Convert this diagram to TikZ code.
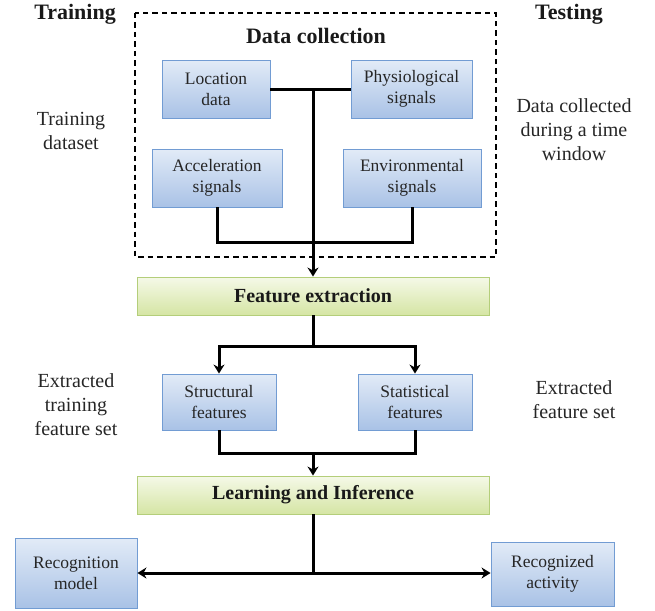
\documentclass[tikz,border=0pt]{standalone}
\usepackage{fontspec}
\setmainfont{Liberation Serif}
\usetikzlibrary{arrows.meta}
\definecolor{boxtop}{HTML}{E2EBF7}
\definecolor{boxbot}{HTML}{A9C2E6}
\definecolor{boxline}{HTML}{729CD3}
\definecolor{grtop}{HTML}{F5F9E8}
\definecolor{grbot}{HTML}{D5E5A4}
\definecolor{grline}{HTML}{B4CE7A}
\definecolor{txt}{HTML}{262626}
\begin{document}
\begin{tikzpicture}[x=1pt,y=-1pt,
  bluebox/.style={draw=boxline,line width=0.9pt,top color=boxtop,bottom color=boxbot,
    text=txt,align=center,inner sep=0pt,font=\fontsize{17.5}{21}\selectfont},
  greenbox/.style={draw=grline,line width=0.9pt,top color=grtop,bottom color=grbot,
    text=black!90,align=center,inner sep=0pt,minimum width=352pt,minimum height=38pt,
    font=\fontsize{20}{24}\selectfont\bfseries},
  sidetext/.style={text=txt,align=center,inner sep=0pt,font=\fontsize{20}{24}\selectfont},
  headtext/.style={text=black!90,inner sep=0pt,font=\fontsize{22}{26}\selectfont\bfseries},
  conn/.style={line width=3pt,black},
  arr/.style={conn,-{Stealth[length=9pt,width=11pt]}}]
\useasboundingbox (0,0) rectangle (655,610);

% dashed frame
\draw[line width=1.5pt,dash pattern=on 5.5pt off 4pt] (135,13) rectangle (496,257);

% headings
\node[headtext] (train) at (75,14) {Training};
\node[headtext] (test) at (569,14) {Testing};
\node[headtext] (dc) at (316,36) {Data collection};

% side texts
\node[sidetext] (tds) at (71,131) {Training\\dataset};
\node[sidetext] (dcw) at (574,130) {Data collected\\during a time\\window};
\node[sidetext] (etf) at (76,405) {Extracted\\training\\feature set};
\node[sidetext] (efs) at (574,400) {Extracted\\feature set};

% boxes
\node[bluebox,minimum width=108pt,minimum height=58pt] (loc) at (216,89) {Location\\data};
\node[bluebox,minimum width=121pt,minimum height=58pt] (phy) at (411.5,89) {Physiological\\signals};
\node[bluebox,minimum width=130pt,minimum height=58pt] (acc) at (217,178) {Acceleration\\signals};
\node[bluebox,minimum width=138pt,minimum height=58pt] (env) at (412,178) {Environmental\\signals};
\node[greenbox] (fe) at (313,296) {Feature extraction};
\node[bluebox,minimum width=114pt,minimum height=56pt] (str) at (219,402) {Structural\\features};
\node[bluebox,minimum width=114pt,minimum height=56pt] (sta) at (415,402) {Statistical\\features};
\node[greenbox] (li) at (313,495) {Learning and Inference};
\node[bluebox,minimum width=122pt,minimum height=70pt] (rm) at (76,573) {Recognition\\model};
\node[bluebox,minimum width=123pt,minimum height=64pt] (ra) at (552.5,574) {Recognized\\activity};

% junctions
\coordinate (j1) at (313,89);
\coordinate (j2) at (313,242);
\coordinate (j3) at (313,346);
\coordinate (j4) at (313,453);
\coordinate (j5) at (313,573);

% connectors
\draw[conn] (loc.east) -- (phy.west);
\draw[arr] (j1) -- (fe.north);
\draw[conn] (acc.south) |- (j2) -| (env.south);
\draw[conn] (fe.south) -- (j3);
\draw[arr] (j3) -| (str.north);
\draw[arr] (j3) -| (sta.north);
\draw[conn] (str.south) |- (j4) -| (sta.south);
\draw[arr] (j4) -- (li.north);
\draw[conn] (li.south) -- (j5);
\draw[arr] (j5) -- (rm.east |- j5);
\draw[arr] (j5) -- (ra.west |- j5);
\end{tikzpicture}
\end{document}
